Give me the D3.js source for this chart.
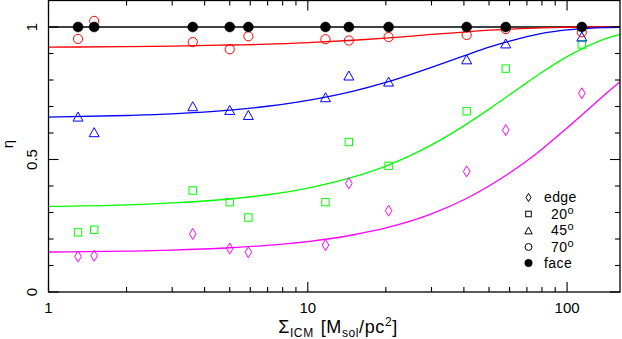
<!DOCTYPE html>
<html><head><meta charset="utf-8">
<script src="https://cdn.jsdelivr.net/npm/d3@7"></script>
<style>
html,body{margin:0;padding:0;background:#fff;}
svg{display:block;}
text{font-family:"Liberation Sans","DejaVu Sans",sans-serif;fill:#000;}
</style></head>
<body>
<svg id="chart" width="622" height="339"></svg>
<script>
// ---- data ----
const sigma = [1.3, 1.5, 3.6, 5.0, 5.9, 11.7, 14.4, 20.5, 41, 58, 114];
const etaEdge = [0.134, 0.137, 0.219, 0.164, 0.150, 0.177, 0.410, 0.307, 0.455, 0.611, 0.750];
const eta20 = [0.225, 0.235, 0.383, 0.339, 0.281, 0.339, 0.566, 0.476, 0.682, 0.843, 0.934];
const eta45 = [0.662, 0.603, 0.701, 0.687, 0.668, 0.735, 0.817, 0.794, 0.878, 0.938, 0.964];
const eta70 = [0.955, 1.023, 0.943, 0.916, 0.965, 0.954, 0.949, 0.962, 0.970, 0.992, 0.980];
const etaFace = [1, 1, 1, 1, 1, 1, 1, 1, 1, 1, 1];

// fitted curves
const fitX = [1, 2, 3, 5, 7, 10, 15, 20, 30, 40, 50, 60, 70, 80, 100, 120, 140, 160];
const fitEdge = [0.151, 0.154, 0.158, 0.167, 0.176, 0.190, 0.216, 0.242, 0.295, 0.348, 0.400, 0.449, 0.495, 0.539, 0.619, 0.687, 0.745, 0.793];
const fit20 = [0.323, 0.329, 0.336, 0.351, 0.367, 0.392, 0.434, 0.475, 0.555, 0.627, 0.690, 0.744, 0.790, 0.829, 0.888, 0.928, 0.955, 0.972];
const fit45 = [0.660, 0.666, 0.672, 0.686, 0.701, 0.723, 0.758, 0.791, 0.848, 0.891, 0.924, 0.947, 0.964, 0.976, 0.989, 0.995, 0.998, 0.999];
const fit70 = [0.924, 0.926, 0.928, 0.932, 0.935, 0.941, 0.950, 0.958, 0.972, 0.981, 0.988, 0.992, 0.995, 0.997, 0.999, 1.000, 1.000, 1.000];
const fitFace = fitX.map(() => 1);

const xTicksMajor = [1, 10, 100];
const xTicksMinor = [2,3,4,5,6,7,8,9,20,30,40,50,60,70,80,90];
const yTicksMajor = [0, 0.5, 1];
const yTicksMinor = [0.1,0.2,0.3,0.4,0.6,0.7,0.8,0.9];
const legendLabels = ["edge", "20", "45", "70", "face"];

// ---- layout ----
const svg = d3.select("#chart");
const L = 48.5, R = 620, T = 0.5, B = 292;
const x = d3.scaleLog().domain([1, 160]).range([L, R]);
const y = d3.scaleLinear().domain([0, 1.1]).range([B, T]);

const series = [
  {name:"face", pts: etaFace, fit: fitFace, color:"#000000", sym:"fcircle"},
  {name:"70", pts: eta70, fit: fit70, color:"#ff0000", sym:"circle"},
  {name:"45", pts: eta45, fit: fit45, color:"#0000ff", sym:"triangle"},
  {name:"20", pts: eta20, fit: fit20, color:"#00ff00", sym:"square"},
  {name:"edge", pts: etaEdge, fit: fitEdge, color:"#ff00ff", sym:"diamond"}
];

// curves
const line = d3.line().x(d => x(d[0])).y(d => y(d[1])).curve(d3.curveMonotoneX);
series.forEach(s => {
  svg.append("path")
    .datum(fitX.map((v,i) => [v, s.fit[i]]))
    .attr("d", line)
    .attr("fill", "none")
    .attr("stroke", s.color)
    .attr("stroke-width", 1.3);
});

// symbols
function drawSym(g, sym, cx, cy, color, scale) {
  scale = scale || 1;
  if (sym === "circle") {
    g.append("circle").attr("cx", cx).attr("cy", cy).attr("r", 4.6*scale)
      .attr("fill","none").attr("stroke", color).attr("stroke-width",1);
  } else if (sym === "fcircle") {
    g.append("circle").attr("cx", cx).attr("cy", cy).attr("r", 5*scale)
      .attr("fill", color).attr("stroke", color).attr("stroke-width",0.5);
  } else if (sym === "triangle") {
    const w = 5*scale, h = 4.5*scale;
    g.append("path").attr("d", `M${cx-w},${cy+h}L${cx+w},${cy+h}L${cx},${cy-h}Z`)
      .attr("fill","none").attr("stroke", color).attr("stroke-width",1);
  } else if (sym === "square") {
    const s = 3.7*scale;
    g.append("rect").attr("x", cx-s).attr("y", cy-s).attr("width", 2*s).attr("height", 2*s)
      .attr("fill","none").attr("stroke", color).attr("stroke-width",1);
  } else if (sym === "diamond") {
    const w = 3.3*scale, h = 5.5*scale;
    g.append("path").attr("d", `M${cx},${cy-h}L${cx+w},${cy}L${cx},${cy+h}L${cx-w},${cy}Z`)
      .attr("fill","none").attr("stroke", color).attr("stroke-width",1);
  }
}

const ptsG = svg.append("g");
series.slice().reverse().forEach(s => {
  sigma.forEach((sv, i) => drawSym(ptsG, s.sym, x(sv), y(s.pts[i]), s.color, 1));
});

// frame
svg.append("rect").attr("x", L).attr("y", T).attr("width", R-L).attr("height", B-T)
  .attr("fill","none").attr("stroke","#000").attr("stroke-width",1.3);

const tg = svg.append("g").attr("stroke","#000").attr("stroke-width",1.1);
xTicksMajor.forEach(v => {
  tg.append("line").attr("x1",x(v)).attr("x2",x(v)).attr("y1",B).attr("y2",B-10);
  tg.append("line").attr("x1",x(v)).attr("x2",x(v)).attr("y1",T).attr("y2",T+10);
});
xTicksMinor.forEach(v => {
  tg.append("line").attr("x1",x(v)).attr("x2",x(v)).attr("y1",B).attr("y2",B-5);
  tg.append("line").attr("x1",x(v)).attr("x2",x(v)).attr("y1",T).attr("y2",T+5);
});
yTicksMajor.forEach(v => {
  tg.append("line").attr("x1",L).attr("x2",L+10).attr("y1",y(v)).attr("y2",y(v));
  tg.append("line").attr("x1",R).attr("x2",R-10).attr("y1",y(v)).attr("y2",y(v));
});
yTicksMinor.forEach(v => {
  tg.append("line").attr("x1",L).attr("x2",L+5).attr("y1",y(v)).attr("y2",y(v));
  tg.append("line").attr("x1",R).attr("x2",R-5).attr("y1",y(v)).attr("y2",y(v));
});

// tick labels
xTicksMajor.forEach(v => {
  svg.append("text").attr("x", x(v)).attr("y", 313).attr("text-anchor","middle")
    .attr("font-size", 15).text(d3.format("d")(v));
});
yTicksMajor.forEach(v => {
  svg.append("text").attr("transform", `translate(37,${y(v)}) rotate(-90)`)
    .attr("text-anchor","middle").attr("font-size",15).text(String(v));
});

// axis labels
svg.append("text").attr("transform","translate(13,144) rotate(-90)")
  .attr("text-anchor","middle").attr("font-size",15).text("η");

const xl = svg.append("text").attr("x", 338).attr("y", 333).attr("text-anchor","middle")
  .attr("font-size",18).attr("letter-spacing",0.6);
xl.append("tspan").text("Σ");
xl.append("tspan").attr("font-size",12).attr("dy",4).text("ICM");
xl.append("tspan").attr("dy",-4).attr("dx",7).text("[M");
xl.append("tspan").attr("font-size",12).attr("dy",4).text("sol");
xl.append("tspan").attr("dy",-4).text("/pc");
xl.append("tspan").attr("font-size",12).attr("dy",-7).text("2");
xl.append("tspan").attr("dy",7).text("]");

// legend
const legSyms = ["diamond","square","triangle","circle","fcircle"];
const legY = [197.5, 214, 230.5, 247, 263];
const lg = svg.append("g");
legendLabels.forEach((lab, i) => {
  drawSym(lg, legSyms[i], 528.5, legY[i], "#000", 0.75);
  const isDeg = (lab !== "edge" && lab !== "face");
  const t = lg.append("text").attr("x", isDeg ? 551 : 544).attr("y", legY[i] + 4.5)
    .attr("font-size", 14).attr("letter-spacing", 0.4);
  t.append("tspan").text(lab);
  if (isDeg) t.append("tspan").attr("font-size", 11).attr("dy", -5).text("o");
});
</script>
</body></html>
